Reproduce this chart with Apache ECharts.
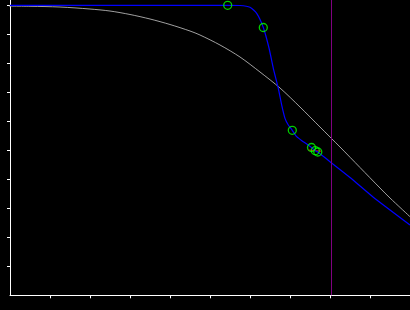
<!DOCTYPE html>
<html>
<head>
<meta charset="utf-8">
<script src="https://cdn.jsdelivr.net/npm/echarts@6/dist/echarts.min.js"></script>
<style>
html,body{margin:0;padding:0;background:#000;}
#c{width:410px;height:310px;}
</style>
</head>
<body>
<div id="c"></div>
<script>
// Reference (gray) curve: [x, y]
var grayCurve = [
  [-0.25, 9.976], [0.5, 9.966], [1.25, 9.941], [2.0, 9.872], [2.5, 9.803],
  [3.0, 9.683], [3.5, 9.528], [4.0, 9.338], [4.5, 9.114], [4.75, 8.976],
  [5.25, 8.631], [5.75, 8.217], [6.25, 7.7], [6.75, 7.148], [7.25, 6.493],
  [7.75, 5.803], [8.25, 5.114], [8.75, 4.407], [9.25, 3.7], [9.5, 3.355],
  [10.0, 2.71]
];
// Fitted (blue) curve: [x, y]
var blueCurve = [
  [0, 10.0], [2.5, 10.0], [5.4425, 10.0], [5.75, 9.993], [6.0, 9.931],
  [6.1675, 9.724], [6.3325, 9.234], [6.475, 8.528], [6.5825, 7.828],
  [6.7075, 7.138], [6.7925, 6.56], [6.875, 6.103], [6.9575, 5.872],
  [7.0575, 5.69], [7.1675, 5.469], [7.3325, 5.297], [7.5375, 5.097],
  [7.6325, 4.986], [7.695, 4.941], [8.0, 4.607], [8.5, 4.062],
  [9.075, 3.39], [10.0, 2.424]
];
// Measured points (green circles)
var points = [
  [5.4425, 10.0], [6.3325, 9.234], [7.0575, 5.69],
  [7.5375, 5.097], [7.6325, 4.986], [7.695, 4.941]
];
// Red error segment
var errorSeg = [[7.46, 5.01], [7.775, 4.97]];
// Vertical marker position
var vLineX = 8.025;
var xTicks = [1, 2, 3, 4, 5, 6, 7, 8, 9, 10];
var yTicks = [1, 2, 3, 4, 5, 6, 7, 8, 9, 10];
var yMax = 10.183;

var chart = echarts.init(document.getElementById('c'));
chart.setOption({
  backgroundColor: '#000',
  animation: false,
  grid: { left: 10, right: 0, top: 0, bottom: 14.7 },
  xAxis: {
    type: 'value', min: 0, max: 10, interval: 1,
    axisLine: { lineStyle: { color: '#fff', width: 1 } },
    axisTick: { length: 3, lineStyle: { color: '#fff' }, customValues: xTicks },
    axisLabel: { show: false },
    splitLine: { show: false }
  },
  yAxis: {
    type: 'value', min: 0, max: yMax, interval: 1,
    axisLine: { show: true, lineStyle: { color: '#fff', width: 1 } },
    axisTick: { show: true, length: 3, lineStyle: { color: '#fff' }, customValues: yTicks },
    axisLabel: { show: false },
    splitLine: { show: false }
  },
  series: [
    {
      type: 'line', data: grayCurve, showSymbol: false, clip: false,
      smooth: 0.3,
      lineStyle: { color: '#a0a0a0', width: 1 },
      markLine: {
        silent: true, symbol: ['none', 'none'], label: { show: false },
        lineStyle: { color: '#800080', width: 1, type: 'solid' },
        data: [{ xAxis: vLineX }]
      },
      z: 2
    },
    {
      type: 'line', data: errorSeg, showSymbol: false,
      lineStyle: { color: '#ff0000', width: 1 }, z: 3
    },
    {
      type: 'line', data: blueCurve, showSymbol: false,
      smooth: 0.2,
      lineStyle: { color: '#0000ff', width: 1.2 }, z: 4
    },
    {
      type: 'scatter', data: points, symbol: 'circle', symbolSize: 8,
      itemStyle: { color: 'rgba(0,0,0,0)', borderColor: '#00ff00', borderWidth: 1.3 },
      z: 5
    }
  ]
});
</script>
</body>
</html>
